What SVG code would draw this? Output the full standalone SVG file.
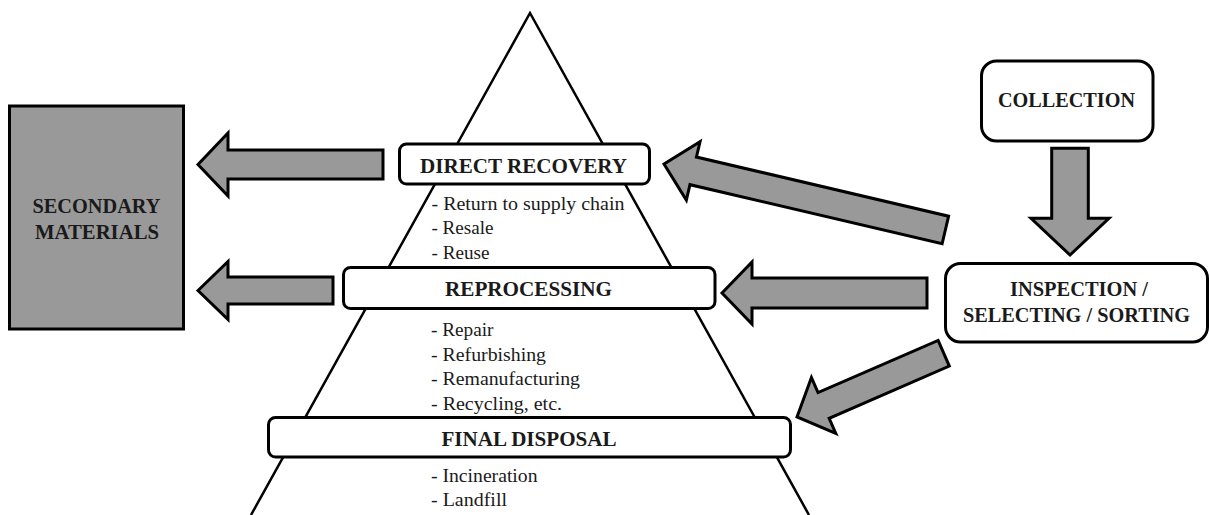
<svg xmlns="http://www.w3.org/2000/svg" width="1209" height="515" viewBox="0 0 1209 515">
<style>
.box{fill:#ffffff;stroke:#000;stroke-width:3}
.gbox{fill:#999999;stroke:#000;stroke-width:3}
.arr{fill:#999999;stroke:#000;stroke-width:3;stroke-linejoin:miter}
.tri{fill:none;stroke:#000;stroke-width:2.5}
.h{font-weight:bold;font-size:20px;fill:#1a1a1a;text-anchor:middle}
.t{font-size:19.5px;fill:#1a1a1a}
</style>
<rect width="1209" height="515" fill="#ffffff"/>
<g id="pyramid">
<polyline class="tri" points="251,515 530,13 809,515"/>
</g>
<g id="connectors">
<polygon class="arr" transform="translate(198,164.5)" points="0,0 30,-31.5 30,-14.5 185,-14.5 185,14.5 30,14.5 30,31.5"/>
<polygon class="arr" transform="translate(198,290.5)" points="0,0 30,-29 30,-13.5 135,-13.5 135,13.5 30,13.5 30,29"/>
<polygon class="arr" transform="translate(722,293)" points="0,0 30,-31 30,-15 205,-15 205,15 30,15 30,31"/>
<polygon class="arr" transform="translate(664,164) rotate(13.2)" points="0,0 30,-30 30,-14.2 289,-14.2 289,14.2 30,14.2 30,30"/>
<polygon class="arr" transform="translate(797,417) rotate(-23.5)" points="0,0 29,-30.5 29,-14 160,-14 160,14 29,14 29,30.5"/>
<polygon class="arr" transform="translate(1070,255) rotate(-90)" points="0,0 36.7,-39 36.7,-18.3 106.7,-18.3 106.7,18.3 36.7,18.3 36.7,39"/>
</g>
<g font-family="Liberation Serif, Tinos, DejaVu Serif, serif">
<g id="secondary">
<rect class="gbox" x="9.5" y="106" width="174" height="223"/>
<text class="h" x="96.5" y="212.5" textLength="128" lengthAdjust="spacingAndGlyphs">SECONDARY</text>
<text class="h" x="97" y="238.5" textLength="124" lengthAdjust="spacingAndGlyphs">MATERIALS</text>
</g>
<g id="direct-recovery">
<rect class="box" x="399.5" y="144" width="250" height="40" rx="7"/>
<text class="h" x="523.5" y="172.5" textLength="207" lengthAdjust="spacingAndGlyphs">DIRECT RECOVERY</text>
</g>
<g id="direct-recovery-list">
<text class="t" x="431.5" y="209.5" textLength="193" lengthAdjust="spacingAndGlyphs">- Return to supply chain</text>
<text class="t" x="431.5" y="234" textLength="62" lengthAdjust="spacingAndGlyphs">- Resale</text>
<text class="t" x="431.5" y="258.5" textLength="58" lengthAdjust="spacingAndGlyphs">- Reuse</text>
</g>
<g id="reprocessing">
<rect class="box" x="343.5" y="267.5" width="371.5" height="41" rx="7"/>
<text class="h" x="528.5" y="295.5" textLength="167" lengthAdjust="spacingAndGlyphs">REPROCESSING</text>
</g>
<g id="reprocessing-list">
<text class="t" x="431" y="336" textLength="62.5" lengthAdjust="spacingAndGlyphs">- Repair</text>
<text class="t" x="431" y="360.5" textLength="115" lengthAdjust="spacingAndGlyphs">- Refurbishing</text>
<text class="t" x="431" y="385" textLength="149" lengthAdjust="spacingAndGlyphs">- Remanufacturing</text>
<text class="t" x="431" y="409.5" textLength="131" lengthAdjust="spacingAndGlyphs">- Recycling, etc.</text>
</g>
<g id="final-disposal">
<rect class="box" x="268.5" y="417.5" width="522" height="39.5" rx="7"/>
<text class="h" x="529" y="445.5" textLength="175" lengthAdjust="spacingAndGlyphs">FINAL DISPOSAL</text>
</g>
<g id="final-disposal-list">
<text class="t" x="431" y="481.5" textLength="106.5" lengthAdjust="spacingAndGlyphs">- Incineration</text>
<text class="t" x="431" y="506" textLength="76" lengthAdjust="spacingAndGlyphs">- Landfill</text>
</g>
<g id="collection">
<rect class="box" x="981.5" y="61" width="171.5" height="80" rx="15"/>
<text class="h" x="1066.5" y="107" textLength="137" lengthAdjust="spacingAndGlyphs">COLLECTION</text>
</g>
<g id="inspection">
<rect class="box" x="945.5" y="263.5" width="262" height="78.5" rx="15"/>
<text class="h" x="1079" y="296" textLength="138" lengthAdjust="spacingAndGlyphs">INSPECTION /</text>
<text class="h" x="1076.5" y="322" textLength="227" lengthAdjust="spacingAndGlyphs">SELECTING / SORTING</text>
</g>
</g>
</svg>
